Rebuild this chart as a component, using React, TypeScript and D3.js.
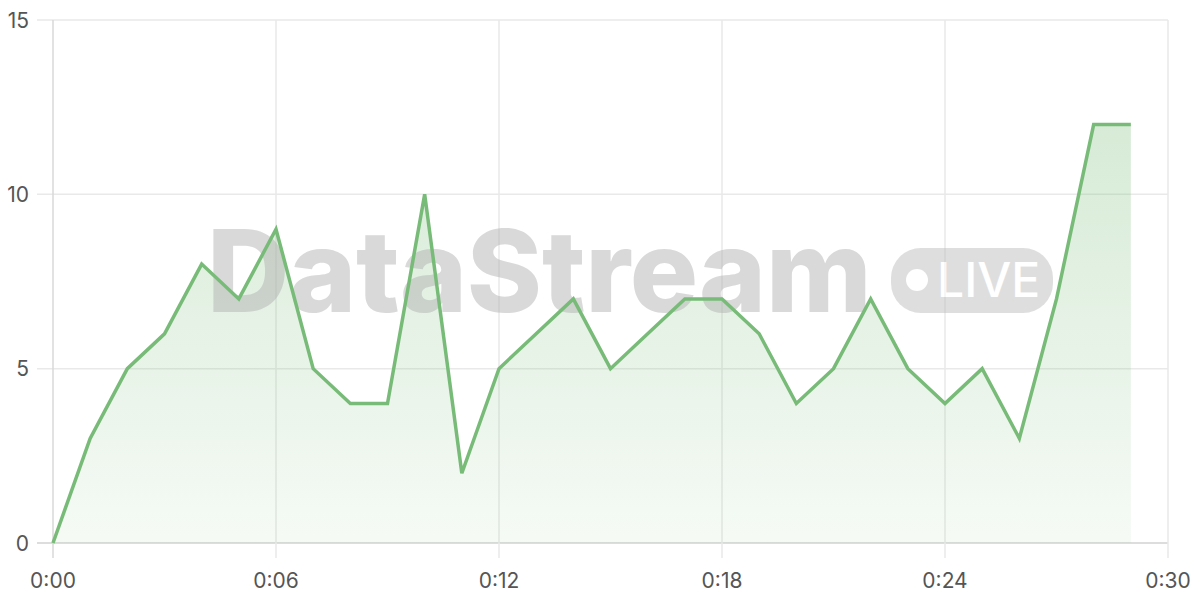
import React from "react";
import * as d3 from "d3";

const seconds = [0,1,2,3,4,5,6,7,8,9,10,11,12,13,14,15,16,17,18,19,20,21,22,23,24,25,26,27,28,29];
const values = [0,3,5,6,8,7,9,5,4,4,10,2,5,6,7,5,6,7,7,6,4,5,7,5,4,5,3,7,12,12];
const xTicks = [0,6,12,18,24,30];
const yTicks = [0,5,10,15];
const watermarkTitle = "DataStream";
const watermarkBadge = "LIVE";

const W = 1200, H = 600;
const left = 53, right = 1168, top = 20, bottom = 543;

const fmt = (s: number) => `${Math.floor(s / 60)}:${String(s % 60).padStart(2, "0")}`;

export default function App() {
  const x = d3.scaleLinear().domain([0, 30]).range([left, right]);
  const y = d3.scaleLinear().domain([0, 15]).range([bottom, top]);
  const pts = seconds.map((s, i) => [s, values[i]] as [number, number]);
  const line = d3.line<[number, number]>().x(d => x(d[0])).y(d => y(d[1]));
  const area = d3.area<[number, number]>().x(d => x(d[0])).y0(y(0)).y1(d => y(d[1]));
  const maxV = d3.max(values) as number;
  const font = "Inter, 'Open Sans', sans-serif";
  return (
    <svg width={W} height={H} style={{ position: "absolute", left: 0, top: 0, background: "#fff" }}>
      <defs>
        <linearGradient id="ag" gradientUnits="userSpaceOnUse" x1={0} x2={0} y1={y(maxV)} y2={y(0)}>
          <stop offset="0%" stopColor="#78bb78" stopOpacity={0.3} />
          <stop offset="100%" stopColor="#78bb78" stopOpacity={0.07} />
        </linearGradient>
      </defs>
      {yTicks.map(t => (
        <g key={"y" + t}>
          <line x1={37} x2={right} y1={y(t)} y2={y(t)} stroke={t === 0 ? "#d2d2d2" : "#e9e9e9"} strokeWidth={1.5} />
          <text x={29} y={y(t)} dy="0.36em" textAnchor="end" fontFamily={font} fontSize={21} fill="#555">{t}</text>
        </g>
      ))}
      {xTicks.map(t => (
        <g key={"x" + t}>
          <line x1={x(t)} x2={x(t)} y1={top} y2={558} stroke={t === 0 ? "#d8d8d8" : "#e9e9e9"} strokeWidth={1.5} />
          <text x={x(t)} y={588} textAnchor="middle" fontFamily={font} fontSize={21} fill="#555">{fmt(t)}</text>
        </g>
      ))}
      <path d={area(pts) ?? ""} fill="url(#ag)" />
      <g opacity={0.48}>
        <text x={207} y={312} fontFamily={font} fontWeight={800} fontSize={114} fill="#b0b0b0" letterSpacing={-0.2}>{watermarkTitle}</text>
        <rect x={891} y={248} width={162} height={65} rx={30} fill="#bcbcbc" />
        <circle cx={917} cy={280} r={11} fill="#fff" />
        <text x={937} y={297} fontFamily={font} fontWeight={500} fontSize={48} fill="#fff">{watermarkBadge}</text>
      </g>
      <path d={line(pts) ?? ""} fill="none" stroke="#78bb78" strokeWidth={3.5} strokeLinejoin="miter" />
    </svg>
  );
}
